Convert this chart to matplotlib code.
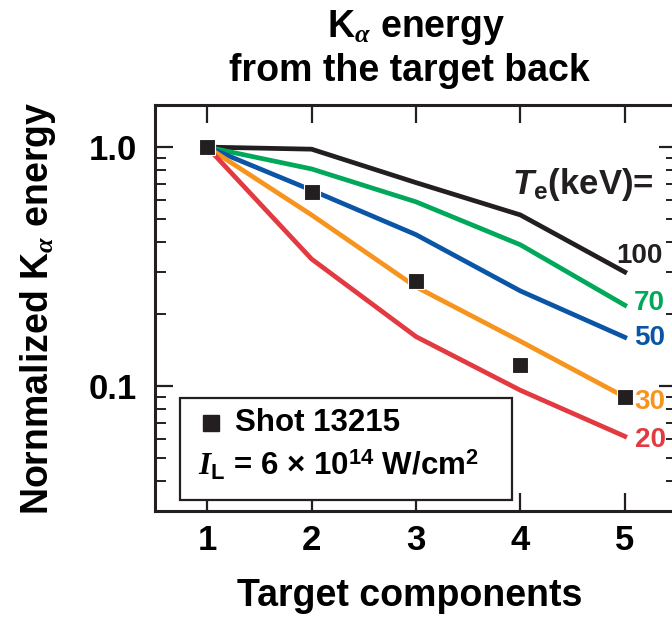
import numpy as np
import matplotlib
matplotlib.use("Agg")
import matplotlib.pyplot as plt
from matplotlib.patches import Rectangle
from matplotlib.ticker import LogLocator, NullFormatter, NullLocator

# ---- data -------------------------------------------------------------
components = [1, 2, 3, 4, 5]
te_labels = ["100", "70", "50", "30", "20"]
energy_te100 = [1.0, 0.98, 0.71, 0.52, 0.30]
energy_te70 = [1.0, 0.81, 0.59, 0.39, 0.218]
energy_te50 = [1.0, 0.66, 0.43, 0.25, 0.16]
energy_te30 = [1.0, 0.52, 0.26, 0.154, 0.090]
energy_te20 = [1.0, 0.34, 0.161, 0.096, 0.0616]
shot_13215 = [1.0, 0.648, 0.275, 0.122, 0.090]

y_ticks = [0.1, 1.0]
y_ticklabels = ["0.1", "1.0"]
x_ticks = [1, 2, 3, 4, 5]

# ---- style ------------------------------------------------------------
FONT = "Liberation Sans"
plt.rcParams.update({
    "font.family": [FONT, "DejaVu Sans"],
    "font.weight": "bold",
    "mathtext.fontset": "custom",
    "mathtext.rm": "Liberation Sans:bold",
    "mathtext.bf": "Liberation Sans:bold",
    "mathtext.it": "Liberation Serif:italic",
    "mathtext.sf": "Liberation Sans:italic:bold",
})

INK = "#231f20"
colors = ["#231f20", "#00a85a", "#0a55a6", "#f7941e", "#e23a40"]
series = [energy_te100, energy_te70, energy_te50, energy_te30, energy_te20]
# label offsets (points) relative to each curve's last point
label_offsets = [(-6, 11.5), (6.5, 1.4), (6.5, -0.7), (7, -3.6), (7, -2.4)]

fig = plt.figure(figsize=(6.72, 6.21), dpi=100)
ax = fig.add_axes([155 / 672, 1 - 511 / 621, 522 / 672, 406 / 621])

for vals, col in zip(series, colors):
    ax.plot(components, vals, color=col, lw=3.4, solid_joinstyle="miter",
            zorder=2, clip_on=False)

ax.plot(components, shot_13215, ls="none", marker="s", ms=11.5,
        mfc=INK, mec="white", mew=0.8, zorder=4, clip_on=False)

for lab, vals, col, off in zip(te_labels, series, colors, label_offsets):
    ax.annotate(lab, xy=(components[-1], vals[-1]), xytext=off,
                textcoords="offset points", ha="left", va="center",
                fontsize=20, fontweight="bold", color=col, zorder=5)

ax.text(5.28, 0.638, r"$\mathsf{T}_{\mathbf{e}}$(keV)=", ha="right",
        va="baseline", fontsize=25, fontweight="bold", color=INK)

# ---- axes -------------------------------------------------------------
ax.set_yscale("log")
ax.set_xlim(0.5, 5.5)
ax.set_ylim(0.03, 1.5)
ax.set_xticks(x_ticks)
ax.set_xticklabels([str(v) for v in x_ticks])
ax.xaxis.set_minor_locator(NullLocator())
ax.set_yticks(y_ticks)
ax.set_yticklabels(y_ticklabels)
ax.yaxis.set_minor_locator(LogLocator(base=10.0, subs=np.arange(2, 10), numticks=12))
ax.yaxis.set_minor_formatter(NullFormatter())

for sp in ax.spines.values():
    sp.set_linewidth(2.2)
    sp.set_color(INK)

ax.tick_params(which="both", direction="in", top=True, right=True, color=INK)
ax.tick_params(which="major", length=13, width=1.6)
ax.tick_params(which="minor", length=8, width=1.4)
ax.tick_params(axis="x", labelsize=25, pad=9)
ax.tick_params(axis="y", labelsize=25, pad=13)
for t in ax.get_xticklabels() + ax.get_yticklabels():
    t.set_fontweight("bold")

ax.set_xlabel("Target components", fontsize=27, fontweight="bold")
ax.set_ylabel(r"Nornmalized K$_\alpha$ energy", fontsize=27, fontweight="bold")
ax.xaxis.set_label_coords(0.488, -0.165)
ax.yaxis.set_label_coords(-0.186, 0.5)

# ---- title ------------------------------------------------------------
fig.text(416 / 672, 1 - 37 / 621, r"K$_\alpha$ energy", ha="center",
         va="baseline", fontsize=27, fontweight="bold")
fig.text(409 / 672, 1 - 81 / 621, "from the target back", ha="center",
         va="baseline", fontsize=27, fontweight="bold")

# ---- key box ----------------------------------------------------------
ax.add_patch(Rectangle((0.048, 0.027), 0.636, 0.251, transform=ax.transAxes,
                       fill=True, facecolor="white", edgecolor=INK, lw=1.6,
                       zorder=6))
ax.plot([0.108], [0.2167], transform=ax.transAxes, ls="none", marker="s",
        ms=11.5, mfc=INK, mec=INK, zorder=7, clip_on=False)
ax.text(0.153, 0.2167, "Shot 13215", transform=ax.transAxes, ha="left",
        va="center", fontsize=22.5, fontweight="bold", zorder=7)
ax.text(0.082, (511 - 475) / 406,
        r"$\mathit{I}_{\mathbf{L}}$ = 6 × 10$^{\mathbf{14}}$ W/cm$^{\mathbf{2}}$",
        transform=ax.transAxes, ha="left", va="baseline", fontsize=22.5,
        fontweight="bold", zorder=7)

fig.savefig("out.png", dpi=100)
